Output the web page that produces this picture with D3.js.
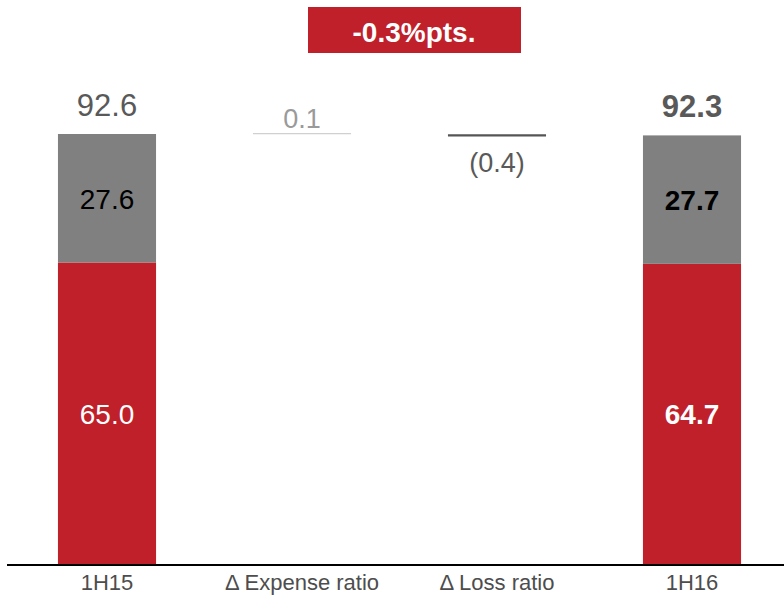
<!DOCTYPE html>
<html>
<head>
<meta charset="utf-8">
<script src="https://cdn.jsdelivr.net/npm/d3@7"></script>
<style>
  body { margin: 0; background: #fff; }
  svg { display: block; font-family: "Liberation Sans", Arial, sans-serif; }
</style>
</head>
<body>
<div id="chart"></div>
<script>
// categories along the bottom
const categories = ['1H15', 'Δ Expense ratio', 'Δ Loss ratio', '1H16'];
// stacked totals (loss ratio + expense ratio)
const lossRatio = [65.0, null, null, 64.7];
const expenseRatio = [27.6, null, null, 27.7];
const totals = [92.6, null, null, 92.3];
// waterfall steps: level after the step and shown label
const stepLevels = [null, 92.7, 92.3, null];
const stepLabels = [null, '0.1', '(0.4)', null];
const headline = '-0.3%pts.';

const width = 784, height = 596;
const red = '#c0202a', grey = '#808080';

const svg = d3.select('#chart').append('svg')
	.attr('width', width)
	.attr('height', height);

const x = d3.scaleBand()
	.domain(categories)
	.range([9.5, 789.5])
	.paddingInner(0.497)
	.paddingOuter(0.2485);

const y = d3.scaleLinear()
	.domain([0, 92.6])
	.range([565, 134]);

// headline box
svg.append('rect')
	.attr('x', 308).attr('y', 7)
	.attr('width', 213).attr('height', 46)
	.attr('fill', red);
svg.append('text')
	.attr('x', 414).attr('y', 41.5)
	.attr('text-anchor', 'middle')
	.attr('font-size', 28).attr('font-weight', 'bold')
	.attr('fill', '#fff')
	.text(headline);

categories.forEach(function (c, i) {
	const cx = x(c) + x.bandwidth() / 2;
	const bold = i === 3 ? 'bold' : 'normal';
	if (totals[i] !== null) {
		// red (loss ratio)
		svg.append('rect')
			.attr('x', x(c)).attr('width', x.bandwidth())
			.attr('y', y(lossRatio[i]))
			.attr('height', y(0) - y(lossRatio[i]))
			.attr('fill', red);
		// grey (expense ratio)
		svg.append('rect')
			.attr('x', x(c)).attr('width', x.bandwidth())
			.attr('y', y(totals[i]))
			.attr('height', y(lossRatio[i]) - y(totals[i]))
			.attr('fill', grey);
		svg.append('text')
			.attr('x', cx).attr('y', y(totals[i]) - 18)
			.attr('text-anchor', 'middle')
			.attr('font-size', 31).attr('font-weight', bold)
			.attr('fill', '#595959')
			.text(totals[i].toFixed(1));
		svg.append('text')
			.attr('x', cx).attr('y', (y(totals[i]) + y(lossRatio[i])) / 2 + 10.5)
			.attr('text-anchor', 'middle')
			.attr('font-size', 28).attr('font-weight', bold)
			.attr('fill', '#000')
			.text(expenseRatio[i].toFixed(1));
		svg.append('text')
			.attr('x', cx).attr('y', (y(lossRatio[i]) + y(0)) / 2 + 10)
			.attr('text-anchor', 'middle')
			.attr('font-size', 28).attr('font-weight', bold)
			.attr('fill', '#fff')
			.text(lossRatio[i].toFixed(1));
	} else {
		const up = i === 1;
		const ly = y(stepLevels[i]);
		svg.append('line')
			.attr('x1', x(c)).attr('x2', x(c) + x.bandwidth())
			.attr('y1', ly).attr('y2', ly)
			.attr('stroke', up ? '#d0d0d0' : '#555')
			.attr('stroke-width', up ? 1.2 : 2.2);
		svg.append('text')
			.attr('x', cx).attr('y', up ? ly - 6 : ly + 37)
			.attr('text-anchor', 'middle')
			.attr('font-size', 27)
			.attr('fill', up ? '#9a9a9a' : '#595959')
			.text(stepLabels[i]);
	}
	// category label
	svg.append('text')
		.attr('x', cx).attr('y', 590)
		.attr('text-anchor', 'middle')
		.attr('font-size', 22)
		.attr('fill', '#4d4d4d')
		.text(c);
});

// baseline
svg.append('line')
	.attr('x1', 7).attr('x2', width)
	.attr('y1', y(0)).attr('y2', y(0))
	.attr('stroke', '#000')
	.attr('stroke-width', 2);
</script>
</body>
</html>
